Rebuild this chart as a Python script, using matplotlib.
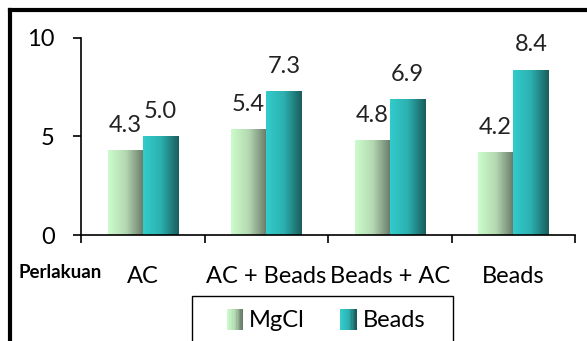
import numpy as np
import matplotlib.pyplot as plt
from matplotlib.colors import LinearSegmentedColormap
from matplotlib.patches import Rectangle
from matplotlib.lines import Line2D
from matplotlib.legend_handler import HandlerBase

plt.rcParams['font.family'] = ['Lato', 'DejaVu Sans']

categories = ["AC", "AC + Beads", "Beads + AC", "Beads"]
mgcl = [4.3, 5.4, 4.8, 4.2]
beads = [5.0, 7.3, 6.9, 8.4]
series_names = ["MgCl", "Beads"]

cmap_mgcl = LinearSegmentedColormap.from_list("mgcl", ["#ccfccc", "#b4d8b2", "#667866"])
cmap_beads = LinearSegmentedColormap.from_list("beads", ["#33cccc", "#2cb0b0", "#1a5c5c"])

fig = plt.figure(figsize=(5.87, 3.41), dpi=100)
ax = fig.add_axes([81 / 587, 106 / 341, 494 / 587, 197 / 341])

grad = np.linspace(0, 1, 256).reshape(1, -1)
w = 0.285
x = np.arange(len(categories)) + 0.5


def gradient_bars(xs, vals, cmap):
    bars = ax.bar(xs, vals, width=w, color="none", edgecolor="none")
    for b in bars:
        x0, y0 = b.get_x(), b.get_y()
        im = ax.imshow(grad, cmap=cmap, aspect="auto", zorder=2,
                       extent=[x0, x0 + b.get_width(), y0, y0 + b.get_height()])
        im.set_clip_path(b)
    return bars


gradient_bars(x - w / 2, mgcl, cmap_mgcl)
gradient_bars(x + w / 2, beads, cmap_beads)

for xs, vals in ((x - w / 2, mgcl), (x + w / 2, beads)):
    for xi, v in zip(xs, vals):
        ax.annotate(f"{v:.1f}", (xi, v), xytext=(0, 13), textcoords="offset points",
                    ha="center", va="baseline", fontsize=17, color="#222222")

ax.set_xlim(0, 4)
ax.set_ylim(0, 10)
ax.set_yticks([0, 5, 10])
ax.set_xticks([0, 1, 2, 3, 4])
ax.set_xticklabels([])
ax.set_xticks(x, minor=True)
ax.set_xticklabels(categories, minor=True)
ax.tick_params(axis="x", which="major", length=6, width=1.2, direction="out")
ax.tick_params(axis="x", which="minor", length=0, pad=22, labelsize=17)
ax.tick_params(axis="y", length=6, width=1.2, pad=13, labelsize=17)
for s in ("top", "right"):
    ax.spines[s].set_visible(False)
for s in ("left", "bottom"):
    ax.spines[s].set_linewidth(1.2)

fig.text(18 / 587, 1 - 272 / 341, "Perlakuan", fontsize=13.5, fontweight="bold",
         va="center", ha="left")

# outer frame
fig.add_artist(Line2D([10 / 587, 1], [1 - 10 / 341] * 2, color="black", lw=3))
fig.add_artist(Line2D([10 / 587] * 2, [1 - 10 / 341, 0], color="black", lw=3))

# legend box
fig.add_artist(Rectangle((192 / 587, -0.05), 261 / 587, 45 / 341 + 0.05,
                         transform=fig.transFigure, fill=False, edgecolor="black", lw=1))


class GradHandler(HandlerBase):
    def __init__(self, cmap):
        super().__init__()
        self.cmap = cmap

    def create_artists(self, legend, orig, xdescent, ydescent, width, height, fontsize, trans):
        n = 12
        sw = width / n
        arts = []
        for i in range(n):
            r = Rectangle((xdescent * -1 + i * sw, -ydescent), sw * 1.05, height,
                          facecolor=self.cmap(i / (n - 1)), edgecolor="none", transform=trans)
            arts.append(r)
        return arts


h1 = Rectangle((0, 0), 1, 1)
h2 = Rectangle((0, 0), 1, 1)
fig.legend([h1, h2], series_names, loc="center", bbox_to_anchor=(326 / 587, 1 - 320 / 341),
           ncol=2, frameon=False, fontsize=17, handlelength=0.7, handleheight=1.0,
           handletextpad=0.25, columnspacing=1.5,
           handler_map={h1: GradHandler(cmap_mgcl), h2: GradHandler(cmap_beads)})

fig.savefig("out.png", dpi=100)
